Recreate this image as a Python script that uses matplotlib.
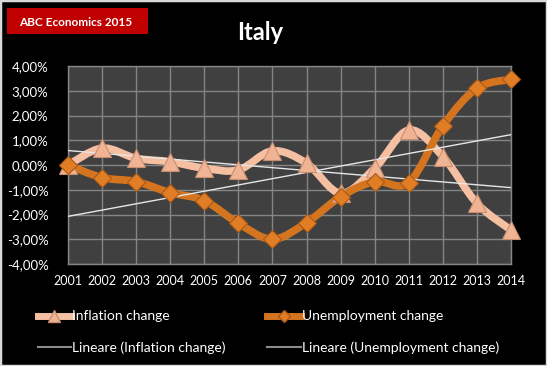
import numpy as np
import matplotlib
matplotlib.use("Agg")
import matplotlib.pyplot as plt
from matplotlib.path import Path
from matplotlib.patches import PathPatch, Rectangle
from matplotlib.lines import Line2D
from matplotlib.ticker import FuncFormatter

years = [2001, 2002, 2003, 2004, 2005, 2006, 2007, 2008, 2009, 2010, 2011, 2012, 2013, 2014]
inflation = [0.00, 0.68, 0.27, 0.13, -0.13, -0.20, 0.57, 0.07, -1.14, -0.13, 1.41, 0.34, -1.55, -2.63]
unemployment = [0.00, -0.51, -0.67, -1.12, -1.44, -2.36, -3.00, -2.33, -1.28, -0.67, -0.71, 1.58, 3.10, 3.46]

INFL_COL = "#F5BFA2"
UNEMP_COL = "#D4741F"
FONT = "Lato"


def smooth_path(x, y):
    # excel-like smoothed line: cubic bezier through every point
    x = np.asarray(x, float)
    y = np.asarray(y, float)
    pts = np.column_stack([x, y])
    n = len(pts)
    verts = [pts[0]]
    codes = [Path.MOVETO]
    for i in range(n - 1):
        p0 = pts[max(i - 1, 0)]
        p1 = pts[i]
        p2 = pts[i + 1]
        p3 = pts[min(i + 2, n - 1)]
        c1 = p1 + (p2 - p0) / 6.0
        c2 = p2 - (p3 - p1) / 6.0
        verts += [c1, c2, p2]
        codes += [Path.CURVE4] * 3
    return Path(verts, codes)


fig = plt.figure(figsize=(5.47, 3.66), dpi=100, facecolor="black")
fig.add_artist(Rectangle((0, 0), 1, 1, transform=fig.transFigure, fill=False,
                         edgecolor="#D9D9D9", linewidth=2.5))

W, H = 547.0, 366.0
ax = fig.add_axes([68 / W, 1 - 264 / H, (511 - 68) / W, (264 - 66) / H])
ax.set_facecolor("#404040")
ax.set_xlim(2001, 2014)
ax.set_ylim(-4, 4)
ax.set_xticks(years)
ax.set_yticks(np.arange(-4, 5, 1))
ax.grid(True, color="#858585", linewidth=1)
ax.set_axisbelow(True)
for s in ax.spines.values():
    s.set_color("#858585")
    s.set_linewidth(1)
ax.tick_params(length=0, colors="white")
ax.tick_params(axis="x", labelsize=9, pad=8)
ax.tick_params(axis="y", labelsize=9.5, pad=14)
ax.yaxis.set_major_formatter(FuncFormatter(lambda v, p: ("%.2f%%" % v).replace(".", ",")))
for lab in ax.get_xticklabels() + ax.get_yticklabels():
    lab.set_fontfamily(FONT)

# linear trend lines
xs = np.array(years, float)
for vals in (inflation, unemployment):
    k, b = np.polyfit(xs, vals, 1)
    ax.plot(xs, k * xs + b, color="#E6E6E6", linewidth=1, zorder=5)

ax.add_patch(PathPatch(smooth_path(years, inflation), facecolor="none",
                       edgecolor=INFL_COL, linewidth=5.5, capstyle="round", zorder=3))
ax.add_patch(PathPatch(smooth_path(years, unemployment), facecolor="none",
                       edgecolor=UNEMP_COL, linewidth=5.5, capstyle="round", zorder=4))
ax.plot(years, inflation, linestyle="none", marker="^", markersize=13,
        markerfacecolor="#F0B394", markeredgecolor="#C98E70", markeredgewidth=0.8,
        clip_on=False, zorder=6)
ax.plot(years, unemployment, linestyle="none", marker="D", markersize=9,
        markerfacecolor="#E07D25", markeredgecolor="#A85816", markeredgewidth=0.8,
        clip_on=False, zorder=7)

# title and badge
fig.text(260 / W, 1 - 33 / H, "Italy", color="white", fontsize=17, fontweight="bold",
         ha="center", va="center", family=FONT)
fig.add_artist(Rectangle((7 / W, 1 - 34 / H), 141 / W, 26 / H, transform=fig.transFigure,
                         facecolor="#C00000", edgecolor="none"))
fig.text(19 / W, 1 - 22 / H, "ABC Economics 2015", color="white", fontsize=8.5,
         fontweight="bold", ha="left", va="center", family=FONT)

# legend
handles = [
    Line2D([], [], color=INFL_COL, linewidth=5, marker="^", markersize=8,
           markerfacecolor="#F0B394", markeredgecolor="#C98E70"),
    Line2D([], [], color="#8C8C8C", linewidth=1.5),
    Line2D([], [], color=UNEMP_COL, linewidth=5, marker="D", markersize=6,
           markerfacecolor="#E07D25", markeredgecolor="#A85816"),
    Line2D([], [], color="#8C8C8C", linewidth=1.5),
]
labels = ["Inflation change", "Lineare (Inflation change)",
          "Unemployment change", "Lineare (Unemployment change)"]
leg = fig.legend(handles, labels, ncol=2, loc="upper left",
                 bbox_to_anchor=(25 / W, 1 - 298 / H), frameon=False,
                 handlelength=2.4, handletextpad=0.1, columnspacing=3.0,
                 labelspacing=1.35, prop={"family": FONT, "size": 10})
for t in leg.get_texts():
    t.set_color("white")

fig.savefig("out.png", dpi=100, facecolor="black")
